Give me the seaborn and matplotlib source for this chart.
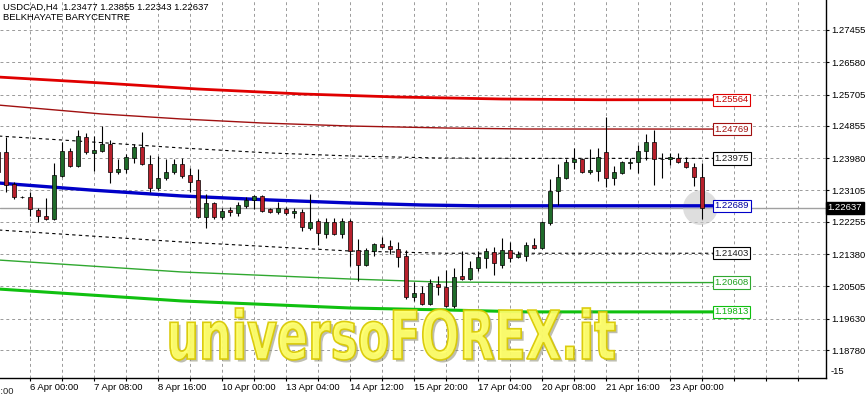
import matplotlib
matplotlib.use("Agg")
import matplotlib.pyplot as plt
import matplotlib.transforms as mtransforms
import matplotlib.patheffects as pe
from matplotlib.textpath import TextPath
from matplotlib.patches import PathPatch
from matplotlib.font_manager import FontProperties
from matplotlib.ticker import FixedLocator
import numpy as np
import pandas as pd
import seaborn as sns

# ---------------- data ----------------
header_line1 = "USDCAD,H4  1.23477 1.23855 1.22343 1.22637"
header_line2 = "BELKHAYATE BARYCENTRE"
watermark = "universoFOREX.it"

bar_index = list(range(-1, 88))
opens = [1.24148, 1.24148, 1.23281, 1.22928, 1.22928, 1.22576, 1.22413, 1.22332, 1.23497, 1.24175,
         1.23768, 1.24554, 1.24121, 1.24175, 1.24365, 1.23606, 1.23687, 1.23985, 1.24283, 1.23822,
         1.23172, 1.23443, 1.23606, 1.23822, 1.23524, 1.23389, 1.22386, 1.22766, 1.22386, 1.22576,
         1.22495, 1.22684, 1.22847, 1.22955, 1.22603, 1.22522, 1.22603, 1.22495, 1.22522, 1.22088,
         1.22278, 1.21926, 1.22251, 1.21926, 1.22278, 1.21491, 1.21084, 1.21464, 1.21655, 1.21600,
         1.21519, 1.21328, 1.20217, 1.20326, 1.20028, 1.20570, 1.20489, 1.19973, 1.20786, 1.20705,
         1.21003, 1.21274, 1.21437, 1.21084, 1.21491, 1.21301, 1.21328, 1.21627, 1.21546, 1.22224,
         1.23091, 1.23443, 1.23877, 1.23958, 1.23606, 1.23633, 1.24148, 1.23443, 1.23579, 1.23850,
         1.23877, 1.24175, 1.24419, 1.23958, 1.23958, 1.23985, 1.23877, 1.23741, 1.23477]
highs = [1.24256, 1.24554, 1.23335, 1.22955, 1.23064, 1.22630, 1.22901, 1.23850, 1.24419, 1.24256,
         1.24744, 1.24663, 1.24581, 1.24852, 1.24473, 1.23958, 1.24094, 1.24365, 1.24690, 1.24067,
         1.24040, 1.23958, 1.23958, 1.23985, 1.23714, 1.23687, 1.23010, 1.22793, 1.22630, 1.22657,
         1.22793, 1.22928, 1.22982, 1.22982, 1.22630, 1.22793, 1.22657, 1.22630, 1.22603, 1.23010,
         1.22332, 1.22359, 1.22359, 1.22359, 1.22332, 1.21790, 1.21546, 1.21682, 1.21844, 1.21763,
         1.21709, 1.21491, 1.20624, 1.20516, 1.20705, 1.20786, 1.20949, 1.21003, 1.21464, 1.21193,
         1.21464, 1.21546, 1.21573, 1.21817, 1.21709, 1.21464, 1.21709, 1.21817, 1.22278, 1.23416,
         1.23822, 1.23958, 1.24256, 1.23985, 1.24229, 1.24256, 1.25096, 1.23768, 1.23904, 1.23985,
         1.24338, 1.24636, 1.24744, 1.24121, 1.24121, 1.24121, 1.24012, 1.23850, 1.23855]
lows = [1.23497, 1.23064, 1.22874, 1.22901, 1.22413, 1.22251, 1.22305, 1.22305, 1.23470, 1.23741,
        1.23741, 1.24094, 1.23633, 1.24148, 1.23308, 1.23551, 1.23579, 1.23850, 1.23795, 1.23064,
        1.23118, 1.23389, 1.23551, 1.23443, 1.23064, 1.22359, 1.22088, 1.22332, 1.22332, 1.22413,
        1.22413, 1.22630, 1.22603, 1.22522, 1.22495, 1.22468, 1.22440, 1.22359, 1.22007, 1.22034,
        1.21627, 1.21817, 1.21898, 1.21817, 1.21057, 1.20651, 1.21057, 1.21328, 1.21546, 1.21383,
        1.21030, 1.20163, 1.20109, 1.20000, 1.20000, 1.20272, 1.19946, 1.19919, 1.20678, 1.20678,
        1.20922, 1.21003, 1.20813, 1.21003, 1.21166, 1.21274, 1.21193, 1.21519, 1.21519, 1.22170,
        1.22711, 1.23416, 1.23687, 1.23579, 1.23551, 1.23362, 1.23199, 1.23253, 1.23551, 1.23687,
        1.23579, 1.23931, 1.23253, 1.23443, 1.23795, 1.23850, 1.23714, 1.23226, 1.22343]
closes = [1.23606, 1.23253, 1.22928, 1.22920, 1.22603, 1.22413, 1.22332, 1.23524, 1.24175, 1.23768,
          1.24581, 1.24148, 1.24202, 1.24365, 1.23606, 1.23687, 1.24012, 1.24283, 1.23822, 1.23172,
          1.23443, 1.23606, 1.23822, 1.23497, 1.23335, 1.22386, 1.22766, 1.22386, 1.22549, 1.22522,
          1.22711, 1.22847, 1.22955, 1.22549, 1.22522, 1.22630, 1.22495, 1.22549, 1.22115, 1.22251,
          1.21953, 1.22251, 1.21926, 1.22265, 1.21464, 1.21084, 1.21491, 1.21655, 1.21573, 1.21519,
          1.21301, 1.20217, 1.20326, 1.20028, 1.20597, 1.20489, 1.19973, 1.20760, 1.20705, 1.21003,
          1.21301, 1.21464, 1.21139, 1.21491, 1.21274, 1.21383, 1.21627, 1.21546, 1.22251, 1.23091,
          1.23470, 1.23877, 1.23958, 1.23606, 1.23660, 1.24012, 1.23443, 1.23606, 1.23877, 1.23877,
          1.24175, 1.24419, 1.23958, 1.23950, 1.24012, 1.23877, 1.23741, 1.23470, 1.22637]

current_price = 1.22637

# barycentre channel lines (bar index, price)
upper2_x = [-1, 12, 24, 37, 49, 62, 74, 88.4]
upper2_y = [1.26180, 1.26018, 1.25855, 1.25720, 1.25638, 1.25584, 1.25564, 1.25564]
upper1_x = [-1, 12, 22, 32, 43, 55, 65, 88.4]
upper1_y = [1.25421, 1.25178, 1.25042, 1.24934, 1.24852, 1.24798, 1.24771, 1.24769]
dotted_up_x = [-1, 7, 22, 33, 43, 54, 65, 88.4]
dotted_up_y = [1.24581, 1.24473, 1.24256, 1.24121, 1.24040, 1.23985, 1.23975, 1.23975]
center_x = [-1, 10.5, 22, 33, 43, 52, 59, 88.4]
center_y = [1.23308, 1.23118, 1.22955, 1.22847, 1.22766, 1.22711, 1.22689, 1.22689]
dotted_lo_x = [-1, 22, 43, 55, 88.4]
dotted_lo_y = [1.22034, 1.21709, 1.21464, 1.21403, 1.21403]
lower1_x = [-1, 22, 43, 54, 65, 88.4]
lower1_y = [1.21220, 1.20895, 1.20705, 1.20624, 1.20608, 1.20608]
lower2_x = [-1, 22, 43, 55, 65, 88.4]
lower2_y = [1.20434, 1.20109, 1.19919, 1.19865, 1.19813, 1.19813]

price_ticks = [1.27455, 1.26580, 1.25705, 1.24855, 1.23980, 1.23105,
               1.22255, 1.21380, 1.20505, 1.19630, 1.18780]
price_tick_labels = ["1.27455", "1.26580", "1.25705", "1.24855", "1.23980", "1.23105",
                     "1.22255", "1.21380", "1.20505", "1.19630", "1.18780"]
extra_axis_label = "-15"

date_tick_bars = [-5, 3, 11, 19, 27, 35, 43, 51, 59, 67, 75, 83]
date_tick_labels = ["2 Apr 16:00", "6 Apr 00:00", "7 Apr 08:00", "8 Apr 16:00", "10 Apr 00:00",
                    "13 Apr 04:00", "14 Apr 12:00", "15 Apr 20:00", "17 Apr 04:00",
                    "20 Apr 08:00", "21 Apr 16:00", "23 Apr 00:00"]

# ---------------- style ----------------
sns.set_theme(style="white")
plt.rcParams['font.family'] = ['Liberation Sans', 'DejaVu Sans']

FS = 6.8
GRID_C = '#9a9a9a'
BULL = '#1f6b2a'
BEAR = '#b8202c'

W, H = 868, 397
fig = plt.figure(figsize=(W / 100, H / 100), dpi=100)
fig.patch.set_facecolor('white')
ax = fig.add_axes([0, 19 / H, 826 / W, 378 / H])
ax.set_facecolor('white')
ax.set_xlim(-0.75, 102.5)
ax.set_ylim(1.18021, 1.28268)

for s in ['top', 'left']:
    ax.spines[s].set_visible(False)
for s in ['right', 'bottom']:
    ax.spines[s].set_visible(True)
    ax.spines[s].set_color('black')
    ax.spines[s].set_linewidth(1.0)

# y axis on the right
ax.yaxis.tick_right()
ax.set_yticks(price_ticks)
ax.set_yticklabels(price_tick_labels)
ax.tick_params(axis='y', which='both', right=True, left=False, direction='out',
               length=2.2, width=0.8, pad=1.5, labelsize=FS, colors='black')

# x axis
vis = [(b, l) for b, l in zip(date_tick_bars, date_tick_labels) if b >= -0.75]
ax.set_xticks([b for b, _ in vis])
ax.set_xticklabels([l for _, l in vis], ha='left')
grid_bars = list(range(date_tick_bars[1] % 4 - 4, 103, 4))
ax.xaxis.set_minor_locator(FixedLocator([g for g in grid_bars if g not in date_tick_bars]))
ax.tick_params(axis='x', which='both', bottom=True, direction='out', length=2.2, width=0.8,
               pad=1.5, labelsize=FS, colors='black')
for lbl in ax.get_xticklabels():
    lbl.set_horizontalalignment('left')
# partially visible first date label (cut by figure edge)
ax.text(date_tick_bars[0] - 0.15, -0.0235, date_tick_labels[0], transform=mtransforms.blended_transform_factory(ax.transData, ax.transAxes),
        ha='left', va='top', fontsize=FS, clip_on=False)

ax.grid(True, which='both', axis='x', color=GRID_C, linestyle=(0, (3, 3)), linewidth=0.7)
ax.grid(True, which='major', axis='y', color=GRID_C, linestyle=(0, (3, 3)), linewidth=0.7)
ax.set_axisbelow(True)

# current price line
ax.axhline(current_price, color='#a0a0a0', lw=1.0, zorder=2)

# gray highlight circle near last candle
ax.scatter([bar_index[-1] - 0.2], [closes[-1]], s=620, color='#c8c8c8', alpha=0.6,
           edgecolors='none', zorder=2.5)

# channel lines
lines = [
    (upper2_x, upper2_y, '#e00000', 2.0, '-', '#c00000'),
    (upper1_x, upper1_y, '#a01010', 1.0, '-', '#a01010'),
    (dotted_up_x, dotted_up_y, 'black', 0.8, (0, (3, 3)), '#202020'),
    (center_x, center_y, '#0000c8', 2.4, '-', '#0000a0'),
    (dotted_lo_x, dotted_lo_y, 'black', 0.8, (0, (3, 3)), '#202020'),
    (lower1_x, lower1_y, '#30a830', 1.0, '-', '#20a020'),
    (lower2_x, lower2_y, '#10c010', 2.2, '-', '#10b010'),
]
for xs, ys, c, lw, ls, tc in lines:
    sns.lineplot(x=xs, y=ys, ax=ax, color=c, lw=lw, linestyle=ls, estimator=None,
                 sort=False, zorder=3, legend=False)
    ax.text(xs[-1] + 0.15, ys[-1], f"{ys[-1]:.5f}", color=tc, fontsize=FS, ha='left', va='center',
            zorder=7, bbox=dict(boxstyle='square,pad=0.18', fc='white', ec=c, lw=0.8))

# candles
df = pd.DataFrame({'bar': bar_index, 'open': opens, 'high': highs, 'low': lows, 'close': closes})
bull = df['close'] >= df['open']
body_lo = np.minimum(df['open'], df['close'])
body_h = np.maximum((df['close'] - df['open']).abs(), 0.00002)
ax.vlines(df['bar'], df['low'], df['high'], color='black', lw=0.8, zorder=4)
ax.bar(df['bar'], body_h, bottom=body_lo, width=0.62,
       color=np.where(bull, BULL, BEAR), edgecolor='black', linewidth=0.5, zorder=5)

# current price box on axis
bt = mtransforms.blended_transform_factory(ax.transAxes, ax.transData)
ax.text(1.002, current_price, f"{current_price:.5f}", transform=bt, ha='left', va='center',
        fontsize=FS, color='white', clip_on=False, zorder=8,
        bbox=dict(boxstyle='square,pad=0.15', fc='black', ec='black'))
ax.text(1.006, 0.0185, extra_axis_label, transform=ax.transAxes, ha='left', va='center',
        fontsize=FS, color='black', clip_on=False)

# header
fig.text(3 / W, 1 - 7.5 / H, header_line1, fontsize=FS, ha='left', va='center', color='black')
fig.text(3 / W, 1 - 17.5 / H, header_line2, fontsize=FS, ha='left', va='center', color='black')

# watermark
fp = FontProperties(family='DejaVu Sans', weight='bold')
tp = TextPath((0, 0), watermark, size=10, prop=fp)
ext = tp.get_extents()
capw = 445.0
caph = 52.0
sx = capw / ext.width
sy = caph / ext.height
base_x, base_y = 170, H - 360
tr = mtransforms.Affine2D().translate(-ext.x0, -ext.y0).scale(sx, sy).translate(base_x, base_y)
shadow = PathPatch(tr.transform_path(tp), fc='#8a8a70', ec='none', alpha=0.55,
                   transform=mtransforms.Affine2D().translate(2.5, -2.5), zorder=9)
main = PathPatch(tr.transform_path(tp), fc='#ffff66', ec='#d8c800', lw=1.2, alpha=0.92,
                 transform=mtransforms.IdentityTransform(), zorder=10)
fig.patches.append(shadow)
fig.patches.append(main)

fig.savefig('out.png', dpi=100, facecolor='white')
